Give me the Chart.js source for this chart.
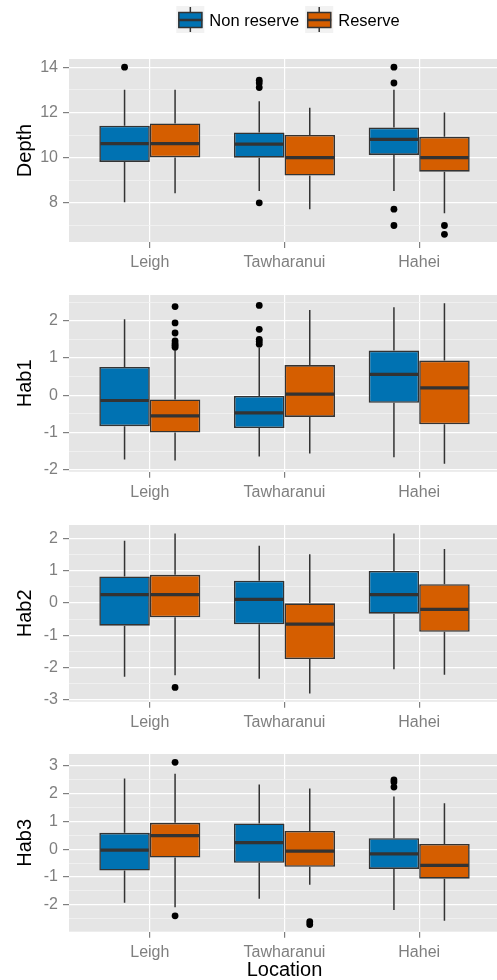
<!DOCTYPE html>
<html>
<head>
<meta charset="utf-8">
<script src="https://cdn.jsdelivr.net/npm/chart.js@4.4.1/dist/chart.umd.min.js"></script>
<style>
  html, body { margin: 0; padding: 0; background: #fff; overflow: hidden; }
  #wrap { position: relative; width: 497px; height: 980px; overflow: hidden; }
  #wrap canvas { position: absolute; left: 0; }
</style>
</head>
<body>
<div id="wrap">
  <canvas id="depthChart" width="500" height="275" style="top:0px"></canvas>
  <canvas id="hab1Chart" width="500" height="230" style="top:275px"></canvas>
  <canvas id="hab2Chart" width="500" height="230" style="top:505px"></canvas>
  <canvas id="hab3Chart" width="500" height="245" style="top:735px"></canvas>
</div>
<script>
const locations = ['Leigh', 'Tawharanui', 'Hahei'];
const groupNames = ['Non reserve', 'Reserve'];

// box stats per location: [lower whisker, Q1, median, Q3, upper whisker]
const depthNonReserve = [[8.03, 9.81, 10.62, 11.41, 13.0], [8.53, 10.0, 10.6, 11.11, 12.49], [8.52, 10.12, 10.81, 11.33, 13.0]];
const depthReserve = [[8.43, 10.01, 10.62, 11.51, 13.0], [7.72, 9.21, 10.0, 11.0, 12.2], [7.54, 9.38, 10.0, 10.92, 11.99]];
const depthNonReserveOut = [[14.0], [13.42, 13.3, 13.1, 8.0], [14.0, 13.3, 7.72, 7.0]];
const depthReserveOut = [[], [], [7.0, 6.61]];

const hab1NonReserve = [[-1.72, -0.83, -0.14, 0.76, 2.04], [-1.64, -0.88, -0.47, -0.02, 1.28], [-1.66, -0.2, 0.56, 1.2, 2.36]];
const hab1Reserve = [[-1.75, -1.0, -0.55, -0.11, 1.25], [-1.56, -0.58, 0.03, 0.81, 2.29], [-1.84, -0.78, 0.2, 0.93, 2.47]];
const hab1NonReserveOut = [[], [2.41, 1.77, 1.5, 1.44, 1.37], []];
const hab1ReserveOut = [[2.38, 1.94, 1.67, 1.46, 1.39, 1.34, 1.29], [], []];

const hab2NonReserve = [[-2.28, -0.7, 0.26, 0.82, 1.92], [-2.34, -0.66, 0.11, 0.69, 1.77], [-2.05, -0.33, 0.26, 0.99, 2.15]];
const hab2Reserve = [[-2.23, -0.44, 0.26, 0.87, 2.15], [-2.8, -1.73, -0.65, -0.01, 1.51], [-2.22, -0.89, -0.2, 0.58, 1.67]];
const hab2NonReserveOut = [[], [], []];
const hab2ReserveOut = [[-2.61], [], []];

const hab3NonReserve = [[-1.93, -0.77, -0.03, 0.59, 2.55], [-1.78, -0.49, 0.24, 0.93, 2.33], [-2.19, -0.71, -0.17, 0.4, 1.9]];
const hab3Reserve = [[-2.09, -0.3, 0.49, 0.95, 2.72], [-1.28, -0.63, -0.07, 0.66, 2.19], [-2.58, -1.06, -0.58, 0.19, 1.66]];
const hab3NonReserveOut = [[], [], [2.5, 2.42, 2.24]];
const hab3ReserveOut = [[3.13, -2.4], [-2.61, -2.71], []];

// y axis ticks (major labelled, minor grid only)
const depthTicks = [8, 10, 12, 14];
const depthMinor = [7, 9, 11, 13];
const hab1Ticks = [-2, -1, 0, 1, 2];
const hab1Minor = [-1.5, -0.5, 0.5, 1.5, 2.5];
const hab2Ticks = [-3, -2, -1, 0, 1, 2];
const hab2Minor = [-2.5, -1.5, -0.5, 0.5, 1.5];
const hab3Ticks = [-2, -1, 0, 1, 2, 3];
const hab3Minor = [-2.5, -1.5, -0.5, 0.5, 1.5, 2.5];

const COLORS = ['#0072B2', '#D55E00'];
const LINE = '#333333';
const FONT = "'Liberation Sans', Arial, sans-serif";

// grey panel behind the grid
const panelBg = {
  id: 'panelBg',
  beforeDraw(chart) {
    const { ctx, chartArea: a } = chart;
    ctx.save();
    ctx.fillStyle = '#E5E5E5';
    ctx.fillRect(a.left, a.top, a.right - a.left, a.bottom - a.top);
    ctx.restore();
  }
};

// whiskers, medians and outliers on top of the bars
const boxParts = {
  id: 'boxParts',
  afterDatasetsDraw(chart) {
    const ctx = chart.ctx;
    const y = chart.scales.y;
    ctx.save();
    chart.data.datasets.forEach((ds, di) => {
      const meta = chart.getDatasetMeta(di);
      meta.data.forEach((el, j) => {
        const [lo, q1, med, q3, hi] = ds.stats[j];
        const half = el.width / 2;
        ctx.strokeStyle = LINE;
        ctx.lineWidth = 1.5;
        ctx.beginPath();
        ctx.moveTo(el.x, y.getPixelForValue(q3));
        ctx.lineTo(el.x, y.getPixelForValue(hi));
        ctx.moveTo(el.x, y.getPixelForValue(q1));
        ctx.lineTo(el.x, y.getPixelForValue(lo));
        ctx.stroke();
        ctx.lineWidth = 3.2;
        ctx.beginPath();
        ctx.moveTo(el.x - half + 1, y.getPixelForValue(med));
        ctx.lineTo(el.x + half - 1, y.getPixelForValue(med));
        ctx.stroke();
        ctx.fillStyle = '#000';
        ds.outliers[j].forEach(v => {
          ctx.beginPath();
          ctx.arc(el.x, y.getPixelForValue(v), 3.4, 0, Math.PI * 2);
          ctx.fill();
        });
      });
    });
    ctx.restore();
  }
};

// ggplot style legend with boxplot keys
const boxLegend = {
  id: 'boxLegend',
  afterDraw(chart) {
    const ctx = chart.ctx;
    ctx.save();
    ctx.font = '16.5px ' + FONT;
    const widths = groupNames.map(n => ctx.measureText(n).width);
    const total = widths.reduce((s, w) => s + w, 0) + 2 * 33 + 6;
    let x = 288 - total / 2;
    const cy = 20;
    groupNames.forEach((name, i) => {
      ctx.fillStyle = '#F2F2F2';
      ctx.fillRect(x, 6, 28, 27);
      ctx.strokeStyle = LINE;
      ctx.lineWidth = 1.5;
      ctx.beginPath();
      ctx.moveTo(x + 14, 7);
      ctx.lineTo(x + 14, 32);
      ctx.stroke();
      ctx.fillStyle = COLORS[i];
      ctx.fillRect(x + 2, 12, 24, 16);
      ctx.strokeRect(x + 2.5, 12.5, 23, 15);
      ctx.lineWidth = 2.5;
      ctx.beginPath();
      ctx.moveTo(x + 2, cy);
      ctx.lineTo(x + 26, cy);
      ctx.stroke();
      ctx.fillStyle = '#000';
      ctx.textBaseline = 'middle';
      ctx.fillText(name, x + 33, cy + 1);
      x += 33 + widths[i] + 6;
    });
    ctx.restore();
  }
};

function makePanel(id, title, nr, r, nrOut, rOut, range, ticks, minor, opts) {
  const all = ticks.concat(minor).sort((a, b) => a - b);
  const datasets = [nr, r].map((stats, i) => ({
    label: groupNames[i],
    data: stats.map((s, j) => ({ x: j + 1, y: [s[1], s[3]] })),
    stats: stats,
    outliers: i === 0 ? nrOut : rOut,
    backgroundColor: COLORS[i],
    borderColor: LINE,
    borderWidth: 1.6,
    borderSkipped: false,
    barPercentage: 1,
    categoryPercentage: 0.75
  }));
  const canvas = document.getElementById(id);
  return new Chart(canvas.getContext('2d'), {
    type: 'bar',
    data: { datasets },
    plugins: opts.legend ? [panelBg, boxParts, boxLegend] : [panelBg, boxParts],
    options: {
      responsive: false,
      animation: false,
      layout: { padding: { top: opts.top, left: 0, right: 0, bottom: 0 } },
      plugins: { legend: { display: false }, tooltip: { enabled: false } },
      scales: {
        x: {
          type: 'linear',
          min: 0.4,
          max: 3.6,
          offset: false,
          afterBuildTicks: s => { s.ticks = locations.map((_, j) => ({ value: j + 1 })); },
          afterFit: s => { s.height = opts.xHeight; },
          border: { display: false },
          grid: { offset: false, color: '#FFFFFF', lineWidth: 1.2, tickLength: 6, tickColor: '#7F7F7F' },
          ticks: {
            autoSkip: false,
            maxRotation: 0,
            padding: 5,
            color: '#7F7F7F',
            font: { family: FONT, size: 16 },
            callback: v => locations[v - 1] || ''
          },
          title: {
            display: !!opts.xTitle,
            text: opts.xTitle || '',
            color: '#000',
            font: { family: FONT, size: 20, lineHeight: 1 },
            padding: { top: 0, bottom: 0 }
          }
        },
        y: {
          type: 'linear',
          min: range[0],
          max: range[1],
          afterBuildTicks: s => { s.ticks = all.map(v => ({ value: v })); },
          afterFit: s => { s.width = 69; },
          border: { display: false },
          grid: {
            color: c => ticks.includes(c.tick.value) ? '#FFFFFF' : '#F2F2F2',
            lineWidth: c => ticks.includes(c.tick.value) ? 1.2 : 0.8,
            tickLength: 6,
            tickColor: c => ticks.includes(c.tick.value) ? '#7F7F7F' : 'rgba(0,0,0,0)'
          },
          ticks: {
            autoSkip: false,
            padding: 5,
            color: '#7F7F7F',
            font: { family: FONT, size: 16 },
            callback: v => ticks.includes(v) ? String(v) : ''
          },
          title: {
            display: true,
            text: title,
            color: '#000',
            font: { family: FONT, size: 20 },
            padding: { top: 13, bottom: 0 }
          }
        }
      }
    }
  });
}

makePanel('depthChart', 'Depth', depthNonReserve, depthReserve, depthNonReserveOut, depthReserveOut,
  [6.27, 14.36], depthTicks, depthMinor, { top: 59, xHeight: 33, legend: true });
makePanel('hab1Chart', 'Hab1', hab1NonReserve, hab1Reserve, hab1NonReserveOut, hab1ReserveOut,
  [-2.05, 2.69], hab1Ticks, hab1Minor, { top: 20, xHeight: 33.3 });
makePanel('hab2Chart', 'Hab2', hab2NonReserve, hab2Reserve, hab2NonReserveOut, hab2ReserveOut,
  [-3.05, 2.41], hab2Ticks, hab2Minor, { top: 20, xHeight: 33.3 });
makePanel('hab3Chart', 'Hab3', hab3NonReserve, hab3Reserve, hab3NonReserveOut, hab3ReserveOut,
  [-2.97, 3.43], hab3Ticks, hab3Minor, { top: 19, xHeight: 48.3, xTitle: 'Location' });
</script>
</body>
</html>
